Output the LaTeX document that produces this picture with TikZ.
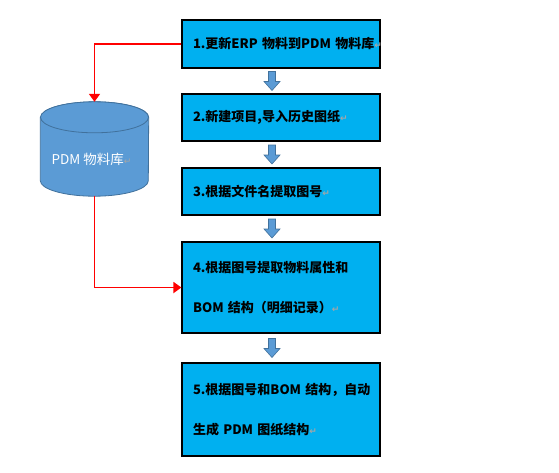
\documentclass[tikz,border=0pt]{standalone}
\usepackage{fontspec}
\newfontfamily\cjk{Noto Sans CJK SC}
\newfontfamily\sym{DejaVu Sans}
\usetikzlibrary{arrows.meta,calc}
\definecolor{boxblue}{HTML}{00B0F0}
\definecolor{dbblue}{HTML}{5B9BD5}
\definecolor{dbedge}{HTML}{41719C}
\newcommand{\pmark}{{\sym\fontsize{9}{9}\selectfont\color{black!35}↵}}
\begin{document}
\begin{tikzpicture}[x=1pt,y=-1pt,
  stepbox/.style={draw=black,line width=1.2pt,fill=boxblue,minimum width=198pt,
    text width=176pt,inner xsep=11pt,align=left,
    font=\cjk\bfseries\fontsize{13}{40}\selectfont},
  dbshape/.style={fill=dbblue,draw=dbedge,line width=0.8pt},
  dbtext/.style={text=white,font=\cjk\fontsize{13.5}{15}\selectfont,inner sep=0pt},
  redline/.style={draw=red,line width=1.8pt,-{Triangle[width=11pt,length=8pt]}},
  blockarrow/.style={fill=dbblue,draw=dbedge,line width=0.6pt}]
\useasboundingbox (0,0) rectangle (559,472);
%% process steps
\node[stepbox,minimum height=48pt] (b1) at (281,44) {1.更新ERP~物料到PDM~物料库\pmark};
\node[stepbox,minimum height=47pt] (b2) at (281,117.5) {2.新建项目,导入历史图纸\pmark};
\node[stepbox,minimum height=47pt] (b3) at (281,191.5) {3.根据文件名提取图号\pmark};
\node[stepbox,minimum height=91pt] (b4) at (281,287.5) {4.根据图号提取物料属性和\\BOM~结构（明细记录）\pmark};
\node[stepbox,minimum height=93pt] (b5) at (281,409.5) {5.根据图号和BOM~结构，自动\\生成~PDM~图纸结构\pmark};
%% database
\node[minimum width=108pt,minimum height=94pt,inner sep=0pt] (db) at (94.5,149) {};
\filldraw[dbshape] ([yshift=-15.5pt]db.north west) -- ([yshift=15.5pt]db.south west)
  arc[start angle=180,end angle=360,x radius=54pt,y radius=15.5pt]
  -- ([yshift=-15.5pt]db.north east)
  arc[start angle=0,end angle=180,x radius=54pt,y radius=15.5pt] -- cycle;
\draw[dbshape] ([yshift=-15.5pt]db.north) ellipse [x radius=54pt,y radius=15.5pt];
\node[dbtext] (dbname) at ([xshift=-3pt,yshift=-10pt]db.center) {PDM~物料库\pmark};
%% red links
\draw[redline] (b1.west) -| (db.north);
\draw[redline] (db.south) |- (b4.west);
%% block arrows between steps
\foreach \a/\b in {b1/b2,b2/b3,b3/b4,b4/b5}
  \filldraw[blockarrow] ($(\a.south)!0.5!(\b.north)+(-9pt,0)$) ++(-3.5pt,9.5pt)
    -- ++(7pt,0) -- ++(0,-10pt) -- ++(4.5pt,0) -- ++(-8pt,-9pt) -- ++(-8pt,9pt)
    -- ++(4.5pt,0) -- cycle;
\end{tikzpicture}
\end{document}
